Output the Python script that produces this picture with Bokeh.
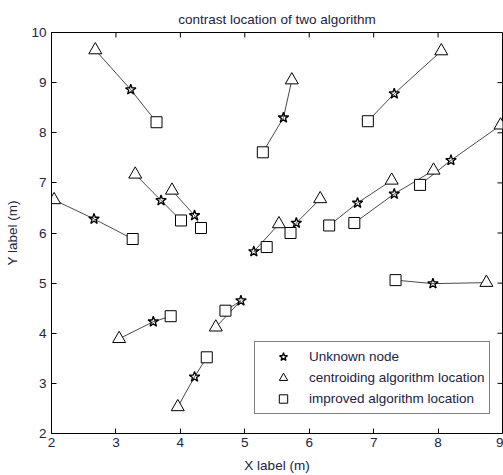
import math
from bokeh.plotting import figure
from bokeh.models import FixedTicker, Range1d, Legend, LegendItem
from bokeh.embed import file_html
from bokeh.resources import INLINE

# Unknown node (star), centroiding algorithm location (triangle), improved algorithm location (square)
star_x = [3.23, 5.60, 7.32, 7.32, 8.20, 6.75, 3.70, 4.22, 2.66, 5.80, 5.14, 7.92, 3.58, 4.94, 4.22]
star_y = [8.86, 8.30, 8.78, 6.78, 7.45, 6.60, 6.65, 6.35, 6.28, 6.20, 5.63, 4.99, 4.23, 4.65, 3.13]
tri_x = [2.68, 5.73, 8.05, 7.93, 8.97, 7.28, 3.30, 3.87, 2.04, 6.17, 5.53, 8.75, 3.05, 4.55, 3.96]
tri_y = [9.65, 9.05, 9.63, 7.25, 8.15, 7.05, 7.17, 6.85, 6.66, 6.68, 6.18, 5.01, 3.89, 4.12, 2.53]
sq_x = [3.63, 5.28, 6.91, 6.70, 7.72, 6.31, 4.01, 4.32, 3.26, 5.71, 5.34, 7.34, 3.85, 4.70, 4.41]
sq_y = [8.21, 7.61, 8.23, 6.20, 6.96, 6.15, 6.25, 6.10, 5.88, 6.00, 5.72, 5.06, 4.34, 4.45, 3.52]

x_ticks = [2, 3, 4, 5, 6, 7, 8, 9]
y_ticks = [2, 3, 4, 5, 6, 7, 8, 9, 10]
X_MIN, X_MAX, Y_MIN, Y_MAX = 2, 9, 2, 10

FONT = "Liberation Sans"
TXT = "#222244"

p = figure(width=503, height=475, output_backend="svg", toolbar_location=None,
           x_range=Range1d(X_MIN, X_MAX), y_range=Range1d(Y_MIN, Y_MAX),
           title="contrast location of two algorithm",
           min_border_left=51, min_border_right=1, min_border_top=32, min_border_bottom=42)
p.title.align = "center"
p.title.vertical_align = "middle"
p.title.text_font = FONT
p.title.text_font_size = "13.5px"
p.title.text_font_style = "normal"
p.title.text_color = TXT

p.grid.visible = False
p.outline_line_color = "black"
p.outline_line_width = 1
p.background_fill_color = "white"
p.border_fill_color = "white"

for ax, ticks in ((p.xaxis[0], x_ticks), (p.yaxis[0], y_ticks)):
    ax.ticker = FixedTicker(ticks=ticks)
    ax.major_tick_in = 5
    ax.major_tick_out = 0
    ax.minor_tick_line_color = None
    ax.axis_line_color = "black"
    ax.major_label_text_font = FONT
    ax.major_label_text_font_size = "13.5px"
    ax.major_label_text_color = TXT
    ax.axis_label_text_font = FONT
    ax.axis_label_text_font_size = "13.5px"
    ax.axis_label_text_font_style = "normal"
    ax.axis_label_text_color = TXT

p.xaxis.major_label_standoff = 4
p.xaxis.axis_label_standoff = 8
p.yaxis.major_label_standoff = 5
p.yaxis.axis_label_standoff = 8

p.xaxis.axis_label = "X label (m)"
p.yaxis.axis_label = "Y label (m)"

# mirrored inward ticks on top and right edges (box style)
p.ray(x=x_ticks, y=[Y_MAX] * len(x_ticks), length=5, length_units="screen",
      angle=-math.pi / 2, line_color="black", line_width=1)
p.ray(x=[X_MAX] * len(y_ticks), y=y_ticks, length=5, length_units="screen",
      angle=math.pi, line_color="black", line_width=1)

# connecting lines from each unknown node to both estimates
p.segment(x0=star_x, y0=star_y, x1=tri_x, y1=tri_y, line_color="#4a4a4a", line_width=1)
p.segment(x0=star_x, y0=star_y, x1=sq_x, y1=sq_y, line_color="#4a4a4a", line_width=1)

r_star = p.scatter(star_x, star_y, marker="star", size=11, fill_color=None,
                   line_color="black", line_width=1.3)
r_tri = p.scatter(tri_x, tri_y, marker="triangle", size=13, fill_color="white",
                  line_color="black", line_width=1)
r_sq = p.scatter(sq_x, sq_y, marker="square", size=11, fill_color="white",
                 line_color="black", line_width=1)

legend = Legend(items=[
    LegendItem(label="Unknown node", renderers=[r_star]),
    LegendItem(label="centroiding algorithm location", renderers=[r_tri]),
    LegendItem(label="improved algorithm location", renderers=[r_sq]),
], location=(203, 19))
legend.border_line_color = "black"
legend.border_line_width = 1
legend.background_fill_color = "white"
legend.background_fill_alpha = 1
legend.label_text_font = FONT
legend.label_text_font_size = "13.5px"
legend.label_text_color = TXT
legend.padding = 4
legend.spacing = 0
legend.glyph_width = 48
legend.glyph_height = 21
legend.label_height = 21
legend.label_standoff = 2
legend.margin = 0
p.add_layout(legend, "center")

open("out.html", "w").write(file_html(p, INLINE))
